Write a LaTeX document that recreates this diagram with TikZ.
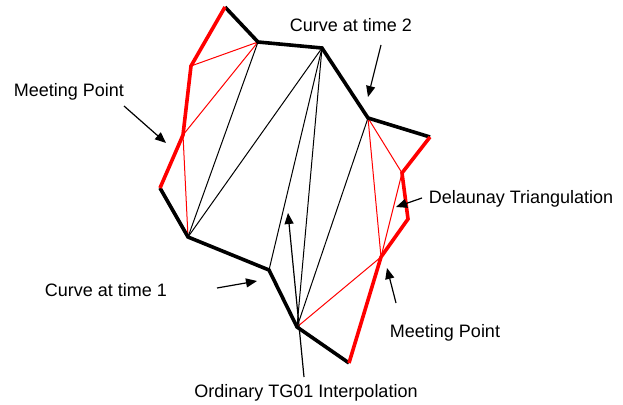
\documentclass[tikz,border=0pt]{standalone}
\usepackage{fontspec}
\setmainfont{Liberation Sans}
\usetikzlibrary{arrows.meta}
\begin{document}
\begin{tikzpicture}[x=1pt,y=-1pt,
  thickblack/.style={line width=3.6pt,black,line join=miter},
  thickred/.style={line width=3.6pt,red,line join=miter},
  thinblack/.style={line width=1pt,black},
  thinred/.style={line width=1pt,red},
  pointer/.style={line width=1.2pt,black,-{Triangle[length=11pt,width=9pt]}},
  lbl/.style={font=\fontsize{18}{21}\selectfont,inner sep=0pt,anchor=base}]
\useasboundingbox (0,0) rectangle (623,404);
% vertices, curve at time 2
\coordinate (a1) at (225,7);
\coordinate (a2) at (258,42);
\coordinate (a3) at (322,48);
\coordinate (a4) at (368,118);
\coordinate (a5) at (430,137);
% right red chain
\coordinate (r1) at (402,173);
\coordinate (r2) at (408,219);
\coordinate (m2) at (381,257);
% curve at time 1
\coordinate (b5) at (349,363);
\coordinate (b4) at (297,327);
\coordinate (b3) at (269,270);
\coordinate (b2) at (188,237);
\coordinate (b1) at (160,188);
% left red chain
\coordinate (m1) at (183,135);
\coordinate (l1) at (191,66);
% thin triangulation
\draw[thinred] (l1) -- (a2) -- (m1) -- (b2);
\draw[thinblack] (b2) -- (a2);
\draw[thinblack] (b2) -- (a3);
\draw[thinblack] (a3) -- (b3);
\draw[thinblack] (a3) -- (b4);
\draw[thinblack] (a4) -- (b4);
\draw[thinred] (a4) -- (m2);
\draw[thinred] (a4) -- (r1) -- (m2) -- (b4);
% thick curves
\draw[thickblack] (a1) -- (a2) -- (a3) -- (a4) -- (a5);
\draw[thickblack] (b5) -- (b4) -- (b3) -- (b2) -- (b1);
\draw[thickred] (a5) -- (r1) -- (r2) -- (m2) -- (b5);
\draw[thickred] (b1) -- (m1) -- (l1) -- (a1);
% labels
\node[lbl] (tmp1) at (69,96) {Meeting Point};
\node[lbl] (tc2) at (351,32) {Curve at time 2};
\node[lbl] (tdel) at (521,203) {Delaunay Triangulation};
\node[lbl] (tmp2) at (445,337) {Meeting Point};
\node[lbl] (tc1) at (106,296) {Curve at time 1};
\node[lbl] (tord) at (306,397) {Ordinary TG01 Interpolation};
% pointer coordinates
\coordinate (p1s) at (124,106); \coordinate (p1e) at (166,143);
\coordinate (p2s) at (381,45);  \coordinate (p2e) at (368,97);
\coordinate (p3s) at (422,198); \coordinate (p3e) at (396,207);
\coordinate (p4s) at (396,303); \coordinate (p4e) at (387,268);
\coordinate (p5s) at (217,288); \coordinate (p5e) at (257,281);
\coordinate (p6s) at (304,377); \coordinate (p6e) at (288,213);
\draw[pointer] (p1s) -- (p1e);
\draw[pointer] (p2s) -- (p2e);
\draw[pointer] (p3s) -- (p3e);
\draw[pointer] (p4s) -- (p4e);
\draw[pointer] (p5s) -- (p5e);
\draw[pointer] (p6s) -- (p6e);
\end{tikzpicture}
\end{document}
